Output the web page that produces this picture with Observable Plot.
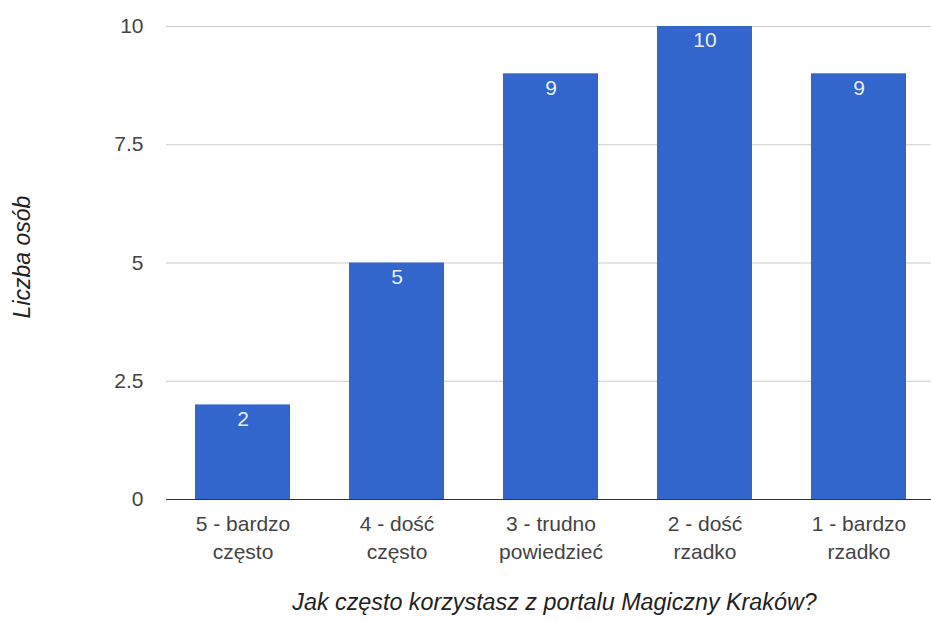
<!DOCTYPE html>
<html>
<head>
<meta charset="utf-8">
<script src="https://cdn.jsdelivr.net/npm/d3@7"></script>
<script src="https://cdn.jsdelivr.net/npm/@observablehq/plot@0.6"></script>
<style>
  html, body { margin: 0; padding: 0; background: #fff; }
  #chart svg { display: block; }
</style>
</head>
<body>
<div id="chart"></div>
<script>
const categories = ["5 - bardzo\nczęsto", "4 - dość\nczęsto", "3 - trudno\npowiedzieć", "2 - dość\nrzadko", "1 - bardzo\nrzadko"];
const values = [2, 5, 9, 10, 9];
const yTicks = [0, 2.5, 5, 7.5, 10];
const yTitle = "Liczba osób";
const xTitle = "Jak często korzystasz z portalu Magiczny Kraków?";

const data = categories.map((c, i) => ({category: c, value: values[i]}));

const chart = Plot.plot({
  width: 931,
  height: 621,
  marginTop: 26,
  marginBottom: 122,
  marginLeft: 166,
  marginRight: -5,
  style: {fontFamily: "'Liberation Sans', Arial, sans-serif", fontSize: "21px", background: "#fff"},
  x: {domain: categories, paddingInner: 0.383, paddingOuter: 0.19, label: null},
  y: {domain: [0, 10], label: null},
  marks: [
    Plot.gridY(yTicks, {stroke: "#cccccc", strokeOpacity: 1, strokeWidth: 1}),
    Plot.barY(data, {x: "category", y: "value", fill: "#3366cc"}),
    Plot.ruleY([0], {stroke: "#333333", strokeWidth: 1}),
    Plot.text(data, {x: "category", y: "value", text: d => String(d.value), dy: 14, fill: "#ffffff", fillOpacity: 0.9, fontSize: 21}),
    Plot.axisY({ticks: yTicks, tickSize: 0, tickPadding: 23, fill: "#444444", fontSize: 21, label: null, tickFormat: d => String(d)}),
    Plot.axisX({tickSize: 0, tickPadding: 12, fill: "#444444", fontSize: 21, lineHeight: 1.33, lineAnchor: "top", label: null}),
    Plot.text([yTitle], {frameAnchor: "left", dx: -144, dy: -6, rotate: -90, fontStyle: "italic", fill: "#222222", fontSize: 23, textAnchor: "middle"}),
    Plot.text([xTitle], {frameAnchor: "bottom", dy: 110, dx: 3, fontStyle: "italic", fill: "#222222", fontSize: 23.3, textAnchor: "middle"})
  ]
});
document.getElementById("chart").append(chart);
</script>
</body>
</html>
